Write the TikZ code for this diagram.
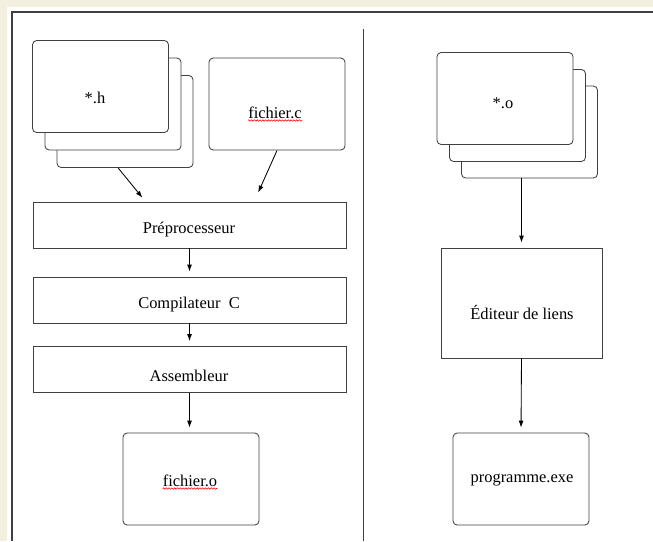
\documentclass[tikz,border=0pt]{standalone}
\usepackage{fontspec}
\setmainfont{Liberation Serif}
\usepackage{xcolor}
\usetikzlibrary{arrows.meta,shapes,calc,positioning,decorations.pathmorphing}
\definecolor{creme}{RGB}{243,240,223}
\definecolor{trait}{RGB}{64,64,64}

\begin{document}
\begin{tikzpicture}[x=0.025cm, y=-0.025cm,
	boite/.style={draw=trait, line width=0.6pt, fill=white, inner sep=0pt},
	carte/.style={boite, rounded corners=3pt, minimum width=3.4cm, minimum height=2.3cm},
	etape/.style={boite, minimum width=7.825cm, minimum height=1.15cm},
	texte/.style={inner sep=0pt},
	fleche/.style={line width=0.6pt, -{Latex[length=5pt,width=3.5pt]}, shorten >=3.5pt},
	ondule/.style={red, line width=0.4pt, decorate, decoration={snake, amplitude=0.5pt, segment length=2pt}}]
		\tikzstyle{every node}=[font=\fontsize{11.7}{14}\selectfont]
		\useasboundingbox (0,0) rectangle (653,541);
		% fond et cadre
		\fill [creme] (0,0) rectangle (653,541);
		\fill [white] (7,7) rectangle (653,541);
		\draw [trait, line width=1pt] (12,541) -- (12,12) -- (653,12);
		\draw [trait, line width=0.7pt] (363,29) -- (363,541);
		% colonne gauche
		\node [carte] (hC) at (125,121.5) {};
		\node [carte] (hB) at (113,104) {};
		\node [carte] (hA) at (100.5,86.5) {};
		\node [carte] (fc) at (277,104) {};
		\node [etape] (pre) at (189.5,225) {};
		\node [etape] (comp) at (189.5,300) {};
		\node [etape] (asm) at (189.5,369.5) {};
		\node [carte] (fo) at (191,479) {};
		\node [texte] (hT) at (95,98) {*.h};
		\node [texte] (fcT) at (275,113) {fichier.c};
		\node [texte] (preT) at (189,230) {Préprocesseur};
		\node [texte] (compT) at (189,305) {Compilateur~~C};
		\node [texte] (asmT) at (189,376) {Assembleur};
		\node [texte] (foT) at (190,481) {fichier.o};
		\draw [ondule] ([yshift=-1.3pt]fcT.base west) -- ([yshift=-1.3pt]fcT.base east);
		\draw [ondule] ([yshift=-1.3pt]foT.base west) -- ([yshift=-1.3pt]foT.base east);
		\draw [fleche] ($(hC.south west)!0.45!(hC.south east)$) -- ($(pre.north west)!0.36!(pre.north east)$);
		\draw [fleche, shorten >=7pt] (fc.south) -- ($(pre.north west)!0.706!(pre.north east)$);
		\draw [fleche] (pre) -- (comp);
		\draw [fleche] (comp) -- (asm);
		\draw [fleche] (asm.south) -- (asm.south |- fo.north);
		% colonne droite
		\node [carte] (oC) at (529.5,132) {};
		\node [carte] (oB) at (517.5,115.5) {};
		\node [carte] (oA) at (505,98.5) {};
		\node [boite, minimum width=4.025cm, minimum height=2.75cm] (ed) at (521.5,303) {};
		\node [carte] (prog) at (521,479) {};
		\node [texte] (oT) at (503,103) {*.o};
		\node [texte] (edT) at (522,313) {Éditeur de liens};
		\node [texte] (progT) at (522,480) {programme.exe};
		\draw [fleche] (ed.north |- oC.south) -- (ed.north);
		\draw [fleche] (ed.south) -- (prog.north);
	\end{tikzpicture}
\end{document}
